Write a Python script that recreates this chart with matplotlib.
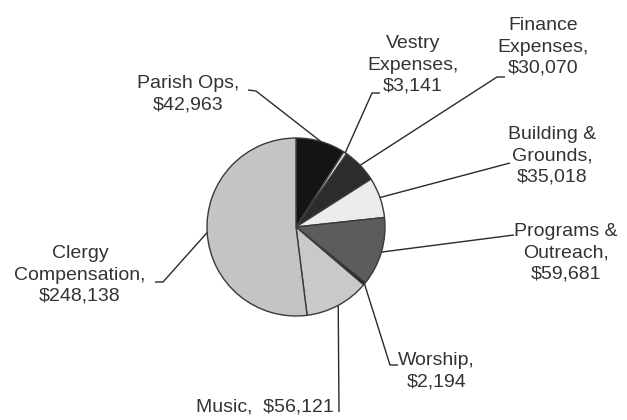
import matplotlib
matplotlib.use("Agg")
import matplotlib.pyplot as plt
import numpy as np

# ---- data ----
categories = ["Parish Ops", "Vestry Expenses", "Finance Expenses", "Building & Grounds",
              "Programs & Outreach", "Worship", "Music", "Clergy Compensation"]
values = [42963, 3141, 30070, 35018, 59681, 2194, 56121, 248138]
label_texts = ["Parish Ops,\n$42,963", "Vestry\nExpenses,\n$3,141", "Finance\nExpenses,\n$30,070",
               "Building &\nGrounds,\n$35,018", "Programs &\nOutreach,\n$59,681", "Worship,\n$2,194",
               "Music,  $56,121", "Clergy\nCompensation,\n$248,138"]

# ---- style / layout ----
colors = ["#141414", "#d8d8d8", "#2c2c2c", "#ececec", "#5c5c5c", "#1a1a1a", "#c9c9c9", "#c4c4c4"]
W, H = 627, 420
CX, CY, R = 296, 227, 89

# text positions (pixel coords, top-left origin) and alignment
text_pos = [(188, 94, "center"), (413, 65, "center"), (543, 47, "center"), (552, 156, "center"),
            (566, 253, "center"), (398, 371, "left"), (334, 407, "right"), (80, 275, "center")]
# leader elbows from text side (pixel coords), anchor on the pie appended
leader_start = [[(248, 90), (256, 91)], [(380, 93), (372, 93)], [(505, 77), (497, 77)],
                [(510, 163)], [(514, 235)], [(398, 365), (390, 365)], [(339, 412)],
                [(155, 282), (163, 282)]]

fig = plt.figure(figsize=(W / 100, H / 100), dpi=100)
ax = fig.add_axes([0, 0, 1, 1])

def P(x, y):
    return x, H - y

wedges, _ = ax.pie(values, colors=colors, startangle=90, counterclock=False,
                   center=P(CX, CY), radius=R, frame=True,
                   wedgeprops=dict(edgecolor="#3a3a3a", linewidth=1.0))
ax.set_xlim(0, W)
ax.set_ylim(0, H)
ax.set_aspect("equal")
ax.axis("off")

textcolor = "#333333"
for w, lab, (tx, ty, ha), pts in zip(wedges, label_texts, text_pos, leader_start):
    mid = np.deg2rad((w.theta1 + w.theta2) / 2)
    ax_x = CX + R * np.cos(mid)
    ax_y = CY - R * np.sin(mid)
    path = [P(*p) for p in pts] + [P(ax_x, ax_y)]
    xs, ys = zip(*path)
    ax.plot(xs, ys, color="#2a2a2a", lw=1.0, solid_capstyle="butt")
    ax.text(*P(tx, ty), lab, ha=ha, va="center", multialignment="center",
            fontsize=14, family="Liberation Sans", color=textcolor, linespacing=1.33)

fig.savefig("out.png", dpi=100)
